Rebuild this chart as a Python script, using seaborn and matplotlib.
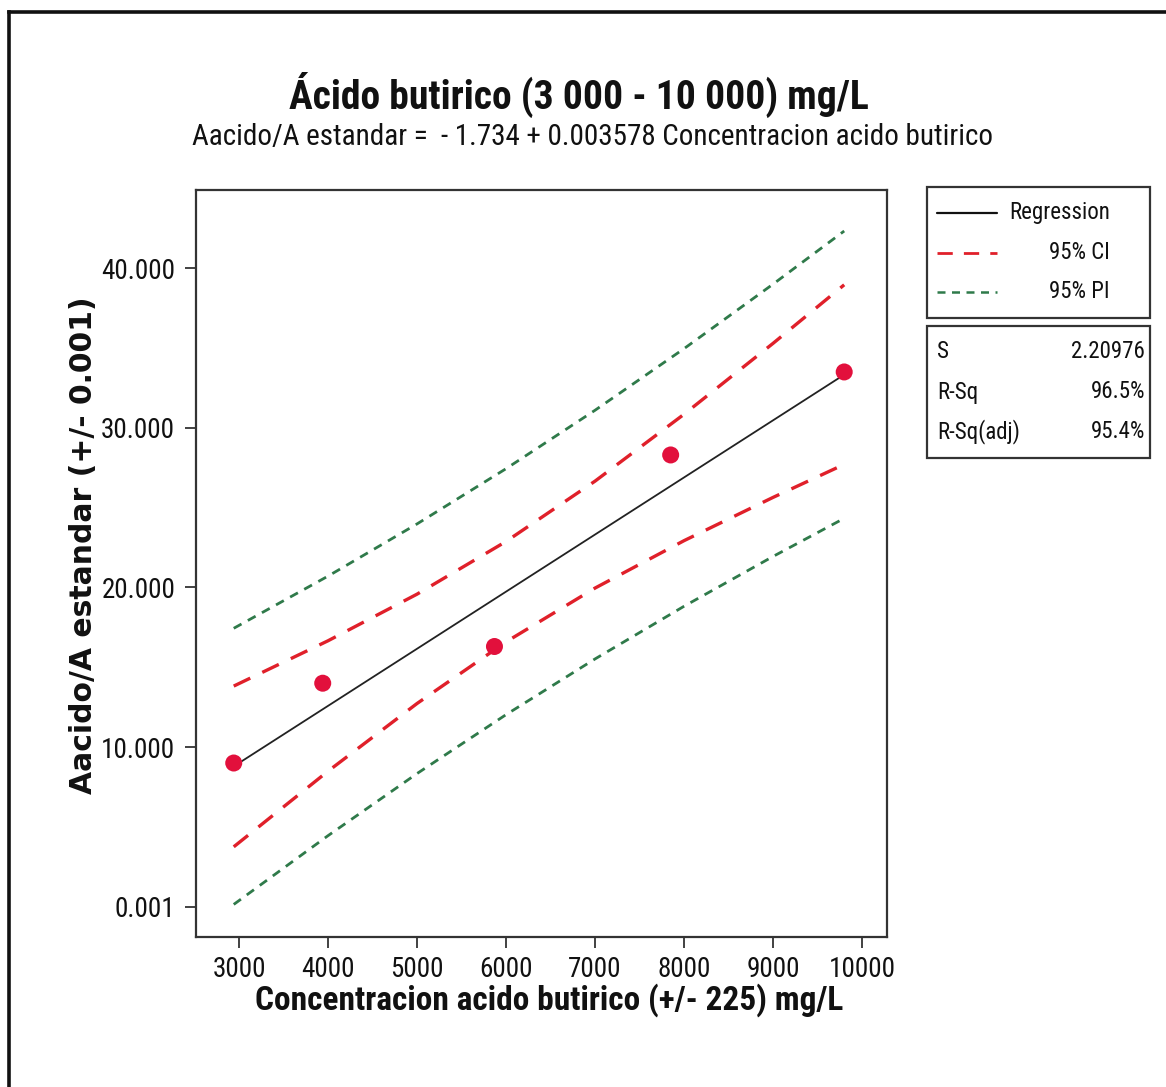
import numpy as np
import pandas as pd
import matplotlib
matplotlib.use("Agg")
import matplotlib.pyplot as plt
from matplotlib import font_manager
from matplotlib.patches import Rectangle
from matplotlib.lines import Line2D
import seaborn as sns

# ---------------- data ----------------
conc = [2940, 3940, 5870, 7850, 9800]
ratio = [9.0, 14.0, 16.3, 28.3, 33.5]

band_x = [2940, 4000, 5000, 6000, 7000, 8000, 9000, 9800]
fit_y = [8.79, 12.58, 16.16, 19.73, 23.31, 26.89, 30.47, 33.33]
ci_lo = [3.75, 8.49, 12.73, 16.59, 19.96, 22.93, 25.64, 27.71]
ci_hi = [13.82, 16.66, 19.58, 22.88, 26.66, 30.85, 35.29, 38.96]
pi_lo = [0.14, 4.45, 8.34, 12.03, 15.52, 18.82, 21.94, 24.33]
pi_hi = [17.44, 20.71, 23.98, 27.44, 31.10, 34.96, 39.00, 42.33]

x_ticks = [3000, 4000, 5000, 6000, 7000, 8000, 9000, 10000]
y_ticks = [0.001, 10, 20, 30, 40]
y_ticklabels = ["0.001", "10.000", "20.000", "30.000", "40.000"]

title = "Ácido butirico (3 000 - 10 000) mg/L"
subtitle = "Aacido/A estandar =  - 1.734 + 0.003578 Concentracion acido butirico"
xlabel = "Concentracion acido butirico (+/- 225) mg/L"
ylabel = "Aacido/A estandar (+/- 0.001)"
legend_labels = ["Regression", "95% CI", "95% PI"]
stats_names = ["S", "R-Sq", "R-Sq(adj)"]
stats_vals = ["2.20976", "96.5%", "95.4%"]

# ---------------- fonts ----------------
sns.set_theme(style="white")
names = {f.name for f in font_manager.fontManager.ttflist}
if "Roboto Condensed" in names:
    NARROW = dict(family=["Roboto Condensed", "DejaVu Sans"])
elif "Liberation Sans Narrow" in names:
    NARROW = dict(family=["Liberation Sans Narrow", "DejaVu Sans"])
else:
    NARROW = dict(family=["DejaVu Sans"], stretch="condensed")
WIDE = dict(family=["DejaVu Sans"])
plt.rcParams["font.family"] = ["DejaVu Sans"]

W, H = 1166, 1087
fig = plt.figure(figsize=(W / 100, H / 100), dpi=100)
fig.patch.set_facecolor("white")

def fx(px):
    return px / W

def fy(py):
    return 1 - py / H

ax = fig.add_axes([fx(196), fy(937), fx(887) - fx(196), fy(190) - fy(937)])

pts = pd.DataFrame({"x": conc, "y": ratio})
bands = pd.DataFrame({"x": band_x, "fit": fit_y, "ci_lo": ci_lo, "ci_hi": ci_hi,
                      "pi_lo": pi_lo, "pi_hi": pi_hi})

green = "#2f7a4a"
red = "#e0202a"
for col in ["pi_lo", "pi_hi"]:
    sns.lineplot(data=bands, x="x", y=col, ax=ax, color=green, lw=2.0,
                 estimator=None)
    ax.lines[-1].set_dashes([3.2, 2.6])
for col in ["ci_lo", "ci_hi"]:
    sns.lineplot(data=bands, x="x", y=col, ax=ax, color=red, lw=2.4,
                 estimator=None)
    ax.lines[-1].set_dashes([5.5, 4])
sns.lineplot(data=bands.iloc[[0, -1]], x="x", y="fit", ax=ax, color="#222222",
             lw=1.3, estimator=None)
sns.scatterplot(data=pts, x="x", y="y", ax=ax, color="#e2103c", s=150,
                edgecolor="none", zorder=5)

ax.set_xlim(2516, 10281)
ax.set_ylim(-1.9, 44.9)
ax.set_xticks(x_ticks)
ax.set_xticklabels([str(t) for t in x_ticks], fontsize=19.5, color="#111111", **NARROW)
ax.set_yticks(y_ticks)
ax.set_yticklabels(y_ticklabels, fontsize=19.5, color="#111111", **NARROW)
ax.tick_params(axis="both", direction="out", length=8, width=1.3, color="#333333",
               bottom=True, left=True)
ax.tick_params(axis="y", pad=7)
ax.tick_params(axis="x", pad=6)
for s in ax.spines.values():
    s.set_color("#333333")
    s.set_linewidth(1.6)
ax.set_xlabel("")
ax.set_ylabel("")
ax.grid(False)

fig.text(fx(84), fy(545), ylabel, rotation=90, ha="center", va="center",
         fontsize=21.5, fontweight="bold", color="#111111", **WIDE)
fig.text(fx(549), fy(1000), xlabel, ha="center", va="center", fontsize=24,
         fontweight="bold", color="#111111", **NARROW)
fig.text(fx(579), fy(95), title, ha="center", va="center", fontsize=28.5,
         fontweight="bold", color="#111111", **NARROW)
fig.text(fx(593), fy(137), subtitle, ha="center", va="center", fontsize=21,
         color="#111111", **NARROW)

# outer frame (top and left edges)
fig.add_artist(Line2D([fx(9), fx(9)], [fy(1087), fy(12)], transform=fig.transFigure,
                      color="#111111", lw=2.6, solid_capstyle="projecting"))
fig.add_artist(Line2D([fx(9), fx(1166)], [fy(12), fy(12)], transform=fig.transFigure,
                      color="#111111", lw=2.6, solid_capstyle="projecting"))

# legend box
fig.add_artist(Rectangle((fx(927), fy(318)), fx(1150) - fx(927), fy(187) - fy(318),
                         transform=fig.transFigure, fill=False, lw=1.6,
                         edgecolor="#333333"))
leg_styles = [("#111111", None, 1.6), (red, [5.5, 4], 2.0), (green, [3.2, 2.6], 1.8)]
for i, (lab, (c, d, lw)) in enumerate(zip(legend_labels, leg_styles)):
    yy = 213 + i * 39.5
    ln = Line2D([fx(937), fx(997)], [fy(yy), fy(yy)], transform=fig.transFigure,
                color=c, lw=lw)
    if d:
        ln.set_dashes(d)
    fig.add_artist(ln)
    fig.text(fx(1110), fy(yy), lab, ha="right", va="center", fontsize=16.5,
             color="#111111", **NARROW)

# stats box
fig.add_artist(Rectangle((fx(927), fy(458)), fx(1150) - fx(927), fy(326) - fy(458),
                         transform=fig.transFigure, fill=False, lw=1.6,
                         edgecolor="#333333"))
for i, (n, v) in enumerate(zip(stats_names, stats_vals)):
    yy = 352 + i * 40
    fig.text(fx(937), fy(yy), n, ha="left", va="center", fontsize=16.5,
             color="#111111", **NARROW)
    fig.text(fx(1145), fy(yy), v, ha="right", va="center", fontsize=16.5,
             color="#111111", **NARROW)

fig.savefig("out.png", dpi=100)
